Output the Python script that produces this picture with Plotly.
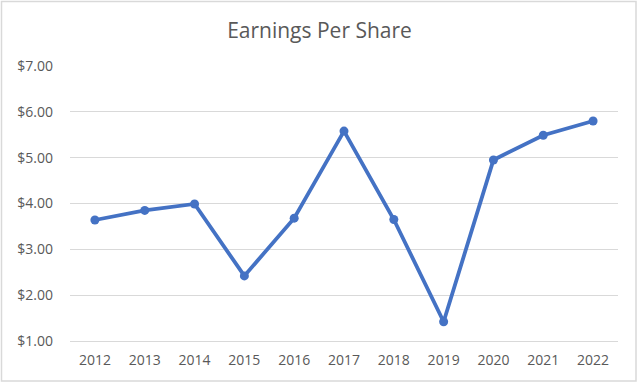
import plotly.graph_objects as go

years = ["2012", "2013", "2014", "2015", "2016", "2017", "2018", "2019", "2020", "2021", "2022"]
eps = [3.64, 3.85, 3.99, 2.42, 3.68, 5.58, 3.65, 1.42, 4.95, 5.49, 5.80]
y_ticks = [1, 2, 3, 4, 5, 6, 7]
y_tick_labels = ["$1.00", "$2.00", "$3.00", "$4.00", "$5.00", "$6.00", "$7.00"]

W, H = 639, 384
ml, mr, mt, mb = 70, 21, 66, 43
pw, ph = W - ml - mr, H - mt - mb
FONT = "Open Sans, Liberation Sans, sans-serif"

fig = go.Figure()
fig.add_trace(go.Scatter(
    x=years, y=eps, mode="lines+markers",
    line=dict(color="#4472C4", width=3.8),
    marker=dict(color="#4472C4", size=9),
    hoverinfo="x+y",
))

fig.update_layout(
    width=W, height=H,
    margin=dict(l=ml, r=mr, t=mt, b=mb),
    paper_bgcolor="white", plot_bgcolor="white",
    showlegend=False,
    title=dict(text="Earnings Per Share", x=0.5, xanchor="center",
               y=1 - 31 / H, yanchor="middle",
               font=dict(family=FONT, size=21, color="#595959")),
    font=dict(family=FONT, size=14, color="#595959"),
    xaxis=dict(type="category", range=[-0.5, 10.5], showgrid=False,
               showline=True, linecolor="#d9d9d9", linewidth=1,
               ticks="", ticklabelstandoff=6,
               tickfont=dict(size=14, color="#595959"), fixedrange=True),
    yaxis=dict(range=[1, 7], tickvals=y_ticks, ticktext=y_tick_labels,
               showgrid=True, gridcolor="#d9d9d9", gridwidth=1, zeroline=False,
               showline=False, ticks="", ticklabelstandoff=16,
               tickfont=dict(size=14, color="#595959"), fixedrange=True),
    shapes=[dict(type="rect", xref="paper", yref="paper",
                 x0=(1.5 - ml) / pw, x1=(636 - ml) / pw,
                 y0=-(mb - 3) / ph, y1=1 + (mt - 1.5) / ph,
                 line=dict(color="#d9d9d9", width=1.5), layer="below")],
)

fig.write_html("out.html", config={"displayModeBar": False},
               post_script="document.body.style.margin='0px';")
